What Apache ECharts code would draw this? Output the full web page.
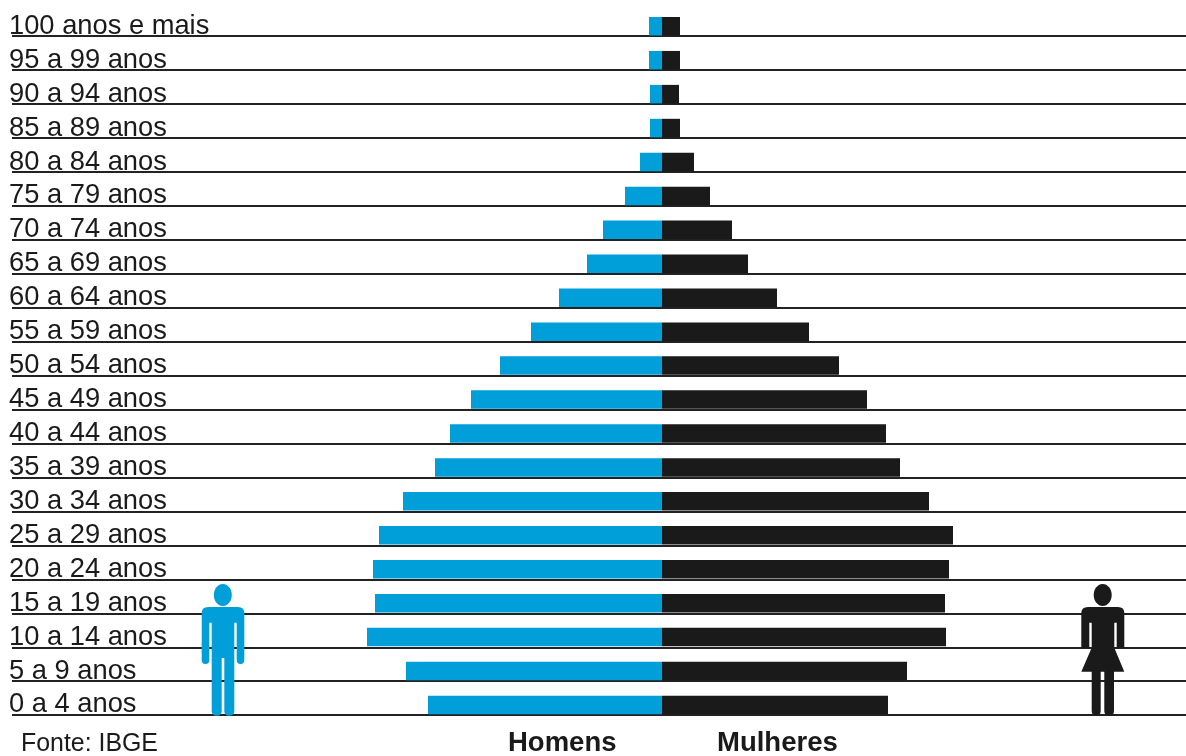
<!DOCTYPE html>
<html><head><meta charset="utf-8">
<style>html,body{margin:0;padding:0;background:#fff}#c{width:1186px;height:756px}</style>
<script src="https://cdn.jsdelivr.net/npm/echarts@6/dist/echarts.min.js"></script>
</head><body><div id="c"></div>
<script>
const ageGroups = ["100 anos e mais","95 a 99 anos","90 a 94 anos","85 a 89 anos","80 a 84 anos","75 a 79 anos","70 a 74 anos","65 a 69 anos","60 a 64 anos","55 a 59 anos","50 a 54 anos","45 a 49 anos","40 a 44 anos","35 a 39 anos","30 a 34 anos","25 a 29 anos","20 a 24 anos","15 a 19 anos","10 a 14 anos","5 a 9 anos","0 a 4 anos"];
const homens = [13,13,12,12,22,37,59,75,103,131,162,191,212,227,259,283,289,287,295,256,234];
const mulheres = [18,18,17,18,32,48,70,86,115,147,177,205,224,238,267,291,287,283,284,245,226];
const INK = '#1a1a1a', BLUE = '#009fda';
const FONT = '"Liberation Sans", Arial, sans-serif';

const manPath = 'M208 607 L238 607 Q244.3 607 244.3 613 L244.3 660 Q244.3 664 240.5 664 Q236.7 664 236.7 660 L236.7 622.7 L234.3 622.7 L234.3 711 Q234.3 715.7 229 715.7 Q224.3 715.7 224.3 711 L224.3 658 L221.7 658 L221.7 711 Q221.7 715.7 217 715.7 Q211.7 715.7 211.7 711 L211.7 622.7 L209.3 622.7 L209.3 660 Q209.3 664 205.5 664 Q201.7 664 201.7 660 L201.7 613 Q201.7 607 208 607 Z';
const womanPath = 'M1088 607 L1118 607 Q1124.3 607 1124.3 613 L1124.3 647.7 L1116.7 647.7 L1116.7 622.7 L1114.3 622.7 L1114.3 647.7 L1124.3 671.7 L1114 671.7 L1114 711 Q1114 715.7 1109 715.7 Q1104.3 715.7 1104.3 711 L1104.3 671.7 L1100.7 671.7 L1100.7 711 Q1100.7 715.7 1096 715.7 Q1091.7 715.7 1091.7 711 L1091.7 671.7 L1081.3 671.7 L1091.7 647.7 L1091.7 622.7 L1089.3 622.7 L1089.3 647.7 L1081.3 647.7 L1081.3 613 Q1081.3 607 1088 607 Z';
echarts.graphic.registerShape('manIcon', echarts.graphic.extendPath(manPath, {}));
echarts.graphic.registerShape('womanIcon', echarts.graphic.extendPath(womanPath, {}));

const chart = echarts.init(document.getElementById('c'), null, {renderer:'canvas'});
chart.setOption({
  animation:false,
  backgroundColor:'#fff',
  grid:[
    {left:0, right:0, top:9.3, height:712.6},
    {left:12, right:0, top:2.2, height:713}
  ],
  xAxis:[
    {gridIndex:0, type:'value', min:-662, max:524, show:false},
    {gridIndex:1, type:'value', min:0, max:1, show:false}
  ],
  yAxis:[
    {gridIndex:0, type:'category', inverse:true, data:ageGroups, z:5,
     axisLine:{show:false}, axisTick:{show:false}, splitLine:{show:false},
     axisLabel:{inside:true, margin:9, color:INK, fontFamily:FONT, fontSize:27.3, interval:0, align:'left'}},
    {gridIndex:1, type:'category', inverse:true, data:ageGroups, z:1,
     axisLine:{show:false}, axisTick:{show:false}, axisLabel:{show:false},
     splitLine:{show:true, interval:0, showMinLine:false, lineStyle:{color:'#222', width:2}}}
  ],
  series:[
    {name:'Homens', type:'bar', stack:'p', xAxisIndex:0, yAxisIndex:0, barWidth:18.5, itemStyle:{color:BLUE}, z:3,
     data:homens.map(v=>-v)},
    {name:'Mulheres', type:'bar', stack:'p', xAxisIndex:0, yAxisIndex:0, barWidth:18.5, itemStyle:{color:INK}, z:3,
     data:mulheres}
  ],
  graphic:[
    {type:'ellipse', shape:{cx:222.8, cy:595, rx:9, ry:11}, style:{fill:BLUE}, z:10},
    {type:'manIcon', style:{fill:BLUE}, z:10},
    {type:'ellipse', shape:{cx:1102.7, cy:595, rx:9, ry:11}, style:{fill:INK}, z:10},
    {type:'womanIcon', style:{fill:INK}, z:10},
    {type:'text', x:21, y:731.5, style:{text:'Fonte: IBGE', fill:INK, font:'24.9px '+FONT}, z:10},
    {type:'text', x:508, y:729, style:{text:'Homens', fill:INK, font:'bold 27.5px '+FONT}, z:10},
    {type:'text', x:717, y:729, style:{text:'Mulheres', fill:INK, font:'bold 27.5px '+FONT}, z:10}
  ]
});
</script></body></html>
